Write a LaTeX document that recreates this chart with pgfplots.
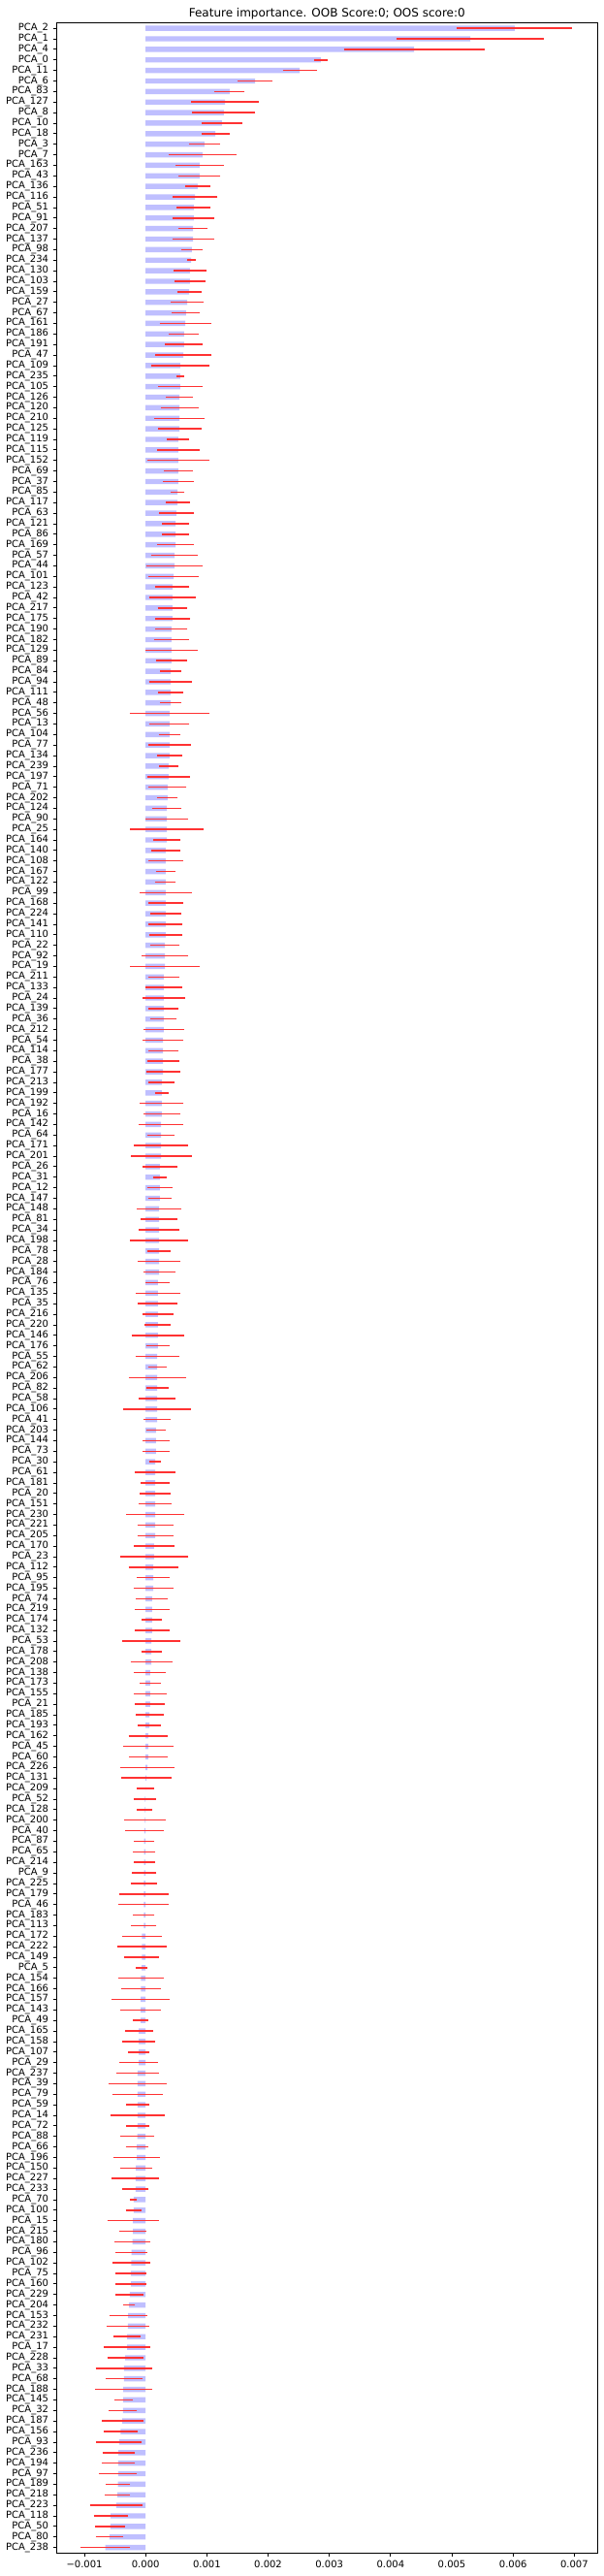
\documentclass[border=0pt]{standalone}
\usepackage{fontspec}
\setmainfont{DejaVu Sans}
\usepackage{pgfplots}
\usepackage{pgfplotstable}
\pgfplotsset{compat=1.18}
\definecolor{barblue}{RGB}{191,191,255}
\definecolor{errred}{RGB}{255,50,50}
\pgfplotstableread{
i v e
0 6.025 0.940
1 5.302 1.201
2 4.384 1.148
3 2.862 0.113
4 2.516 0.277
5 1.786 0.283
6 1.371 0.245
7 1.296 0.553
8 1.277 0.516
9 1.245 0.330
10 1.138 0.230
11 0.962 0.252
12 0.931 0.553
13 0.881 0.393
14 0.881 0.340
15 0.849 0.204
16 0.805 0.371
17 0.786 0.277
18 0.786 0.340
19 0.774 0.239
20 0.774 0.340
21 0.755 0.173
22 0.742 0.072
23 0.723 0.267
24 0.723 0.255
25 0.711 0.198
26 0.679 0.270
27 0.660 0.230
28 0.648 0.421
29 0.629 0.245
30 0.629 0.308
31 0.616 0.465
32 0.566 0.481
33 0.566 0.063
34 0.566 0.358
35 0.553 0.223
36 0.553 0.308
37 0.553 0.412
38 0.553 0.355
39 0.535 0.182
40 0.535 0.346
41 0.535 0.500
42 0.535 0.239
43 0.535 0.252
44 0.522 0.110
45 0.522 0.198
46 0.503 0.292
47 0.491 0.223
48 0.491 0.223
49 0.491 0.299
50 0.472 0.387
51 0.472 0.465
52 0.459 0.412
53 0.440 0.277
54 0.440 0.377
55 0.440 0.245
56 0.440 0.292
57 0.421 0.261
58 0.421 0.286
59 0.421 0.425
60 0.421 0.255
61 0.409 0.167
62 0.409 0.355
63 0.409 0.208
64 0.409 0.167
65 0.390 0.651
66 0.390 0.324
67 0.390 0.173
68 0.390 0.349
69 0.390 0.204
70 0.377 0.157
71 0.377 0.346
72 0.358 0.308
73 0.358 0.167
74 0.346 0.239
75 0.346 0.346
76 0.346 0.604
77 0.346 0.220
78 0.327 0.236
79 0.327 0.286
80 0.327 0.160
81 0.327 0.167
82 0.327 0.428
83 0.327 0.286
84 0.327 0.255
85 0.327 0.277
86 0.327 0.267
87 0.314 0.239
88 0.314 0.381
89 0.314 0.563
90 0.296 0.255
91 0.296 0.299
92 0.296 0.343
93 0.296 0.245
94 0.296 0.214
95 0.296 0.327
96 0.283 0.333
97 0.283 0.245
98 0.283 0.261
99 0.283 0.277
100 0.264 0.214
101 0.264 0.110
102 0.264 0.358
103 0.264 0.296
104 0.252 0.358
105 0.252 0.220
106 0.252 0.443
107 0.252 0.500
108 0.233 0.280
109 0.233 0.110
110 0.233 0.204
111 0.233 0.195
112 0.220 0.358
113 0.220 0.302
114 0.220 0.333
115 0.220 0.475
116 0.220 0.189
117 0.220 0.349
118 0.220 0.261
119 0.201 0.198
120 0.201 0.365
121 0.201 0.324
122 0.201 0.255
123 0.201 0.214
124 0.201 0.428
125 0.201 0.195
126 0.189 0.358
127 0.189 0.151
128 0.189 0.465
129 0.189 0.182
130 0.189 0.296
131 0.189 0.553
132 0.189 0.223
133 0.170 0.157
134 0.170 0.220
135 0.170 0.220
136 0.157 0.094
137 0.157 0.327
138 0.157 0.236
139 0.157 0.255
140 0.157 0.267
141 0.157 0.475
142 0.157 0.292
143 0.157 0.292
144 0.138 0.333
145 0.138 0.560
146 0.126 0.403
147 0.126 0.267
148 0.126 0.324
149 0.107 0.261
150 0.107 0.283
151 0.107 0.167
152 0.107 0.292
153 0.094 0.475
154 0.094 0.167
155 0.094 0.340
156 0.075 0.261
157 0.075 0.176
158 0.075 0.270
159 0.075 0.245
160 0.063 0.230
161 0.063 0.192
162 0.044 0.324
163 0.044 0.406
164 0.044 0.314
165 0.031 0.443
166 0.013 0.409
167 0.000 0.142
168 -0.013 0.182
169 -0.013 0.126
170 -0.013 0.340
171 -0.019 0.314
172 -0.025 0.167
173 -0.025 0.182
174 -0.025 0.173
175 -0.025 0.204
176 -0.030 0.214
177 -0.030 0.403
178 -0.030 0.409
179 -0.030 0.176
180 -0.030 0.208
181 -0.060 0.324
182 -0.060 0.403
183 -0.060 0.286
184 -0.065 0.097
185 -0.075 0.371
186 -0.075 0.324
187 -0.082 0.475
188 -0.082 0.333
189 -0.082 0.126
190 -0.110 0.230
191 -0.110 0.270
192 -0.110 0.176
193 -0.113 0.314
194 -0.130 0.349
195 -0.130 0.475
196 -0.130 0.418
197 -0.130 0.192
198 -0.130 0.443
199 -0.130 0.192
200 -0.135 0.277
201 -0.145 0.182
202 -0.145 0.381
203 -0.160 0.261
204 -0.165 0.390
205 -0.165 0.214
206 -0.195 0.057
207 -0.195 0.132
208 -0.205 0.421
209 -0.208 0.220
210 -0.215 0.292
211 -0.229 0.261
212 -0.235 0.308
213 -0.239 0.252
214 -0.239 0.252
215 -0.260 0.226
216 -0.270 0.100
217 -0.285 0.311
218 -0.289 0.349
219 -0.302 0.223
220 -0.302 0.374
221 -0.333 0.292
222 -0.352 0.465
223 -0.352 0.302
224 -0.365 0.465
225 -0.365 0.151
226 -0.370 0.230
227 -0.380 0.340
228 -0.410 0.277
229 -0.434 0.371
230 -0.443 0.261
231 -0.447 0.270
232 -0.450 0.308
233 -0.453 0.198
234 -0.460 0.204
235 -0.478 0.428
236 -0.569 0.277
237 -0.575 0.245
238 -0.589 0.223
239 -0.657 0.403
}\imptable
\begin{document}
\begin{tikzpicture}
\path[use as bounding box] (0,0) rectangle (448.56pt,1912.32pt);
\begin{axis}[
  at={(42.05pt,17.28pt)}, anchor=south west,
  scale only axis, width=401.6pt, height=1877.98pt,
  xmin=-1.453, xmax=7.377, ymin=-0.5, ymax=239.5, y dir=reverse,
  xtick={-1,0,1,2,3,4,5,6,7},
  xticklabels={−0.001,0.000,0.001,0.002,0.003,0.004,0.005,0.006,0.007},
  ytick={0,...,239},
  yticklabels={PCA\_2,PCA\_1,PCA\_4,PCA\_0,PCA\_11,PCA\_6,PCA\_83,PCA\_127,PCA\_8,PCA\_10,PCA\_18,PCA\_3,PCA\_7,PCA\_163,PCA\_43,PCA\_136,PCA\_116,PCA\_51,PCA\_91,PCA\_207,PCA\_137,PCA\_98,PCA\_234,PCA\_130,PCA\_103,PCA\_159,PCA\_27,PCA\_67,PCA\_161,PCA\_186,PCA\_191,PCA\_47,PCA\_109,PCA\_235,PCA\_105,PCA\_126,PCA\_120,PCA\_210,PCA\_125,PCA\_119,PCA\_115,PCA\_152,PCA\_69,PCA\_37,PCA\_85,PCA\_117,PCA\_63,PCA\_121,PCA\_86,PCA\_169,PCA\_57,PCA\_44,PCA\_101,PCA\_123,PCA\_42,PCA\_217,PCA\_175,PCA\_190,PCA\_182,PCA\_129,PCA\_89,PCA\_84,PCA\_94,PCA\_111,PCA\_48,PCA\_56,PCA\_13,PCA\_104,PCA\_77,PCA\_134,PCA\_239,PCA\_197,PCA\_71,PCA\_202,PCA\_124,PCA\_90,PCA\_25,PCA\_164,PCA\_140,PCA\_108,PCA\_167,PCA\_122,PCA\_99,PCA\_168,PCA\_224,PCA\_141,PCA\_110,PCA\_22,PCA\_92,PCA\_19,PCA\_211,PCA\_133,PCA\_24,PCA\_139,PCA\_36,PCA\_212,PCA\_54,PCA\_114,PCA\_38,PCA\_177,PCA\_213,PCA\_199,PCA\_192,PCA\_16,PCA\_142,PCA\_64,PCA\_171,PCA\_201,PCA\_26,PCA\_31,PCA\_12,PCA\_147,PCA\_148,PCA\_81,PCA\_34,PCA\_198,PCA\_78,PCA\_28,PCA\_184,PCA\_76,PCA\_135,PCA\_35,PCA\_216,PCA\_220,PCA\_146,PCA\_176,PCA\_55,PCA\_62,PCA\_206,PCA\_82,PCA\_58,PCA\_106,PCA\_41,PCA\_203,PCA\_144,PCA\_73,PCA\_30,PCA\_61,PCA\_181,PCA\_20,PCA\_151,PCA\_230,PCA\_221,PCA\_205,PCA\_170,PCA\_23,PCA\_112,PCA\_95,PCA\_195,PCA\_74,PCA\_219,PCA\_174,PCA\_132,PCA\_53,PCA\_178,PCA\_208,PCA\_138,PCA\_173,PCA\_155,PCA\_21,PCA\_185,PCA\_193,PCA\_162,PCA\_45,PCA\_60,PCA\_226,PCA\_131,PCA\_209,PCA\_52,PCA\_128,PCA\_200,PCA\_40,PCA\_87,PCA\_65,PCA\_214,PCA\_9,PCA\_225,PCA\_179,PCA\_46,PCA\_183,PCA\_113,PCA\_172,PCA\_222,PCA\_149,PCA\_5,PCA\_154,PCA\_166,PCA\_157,PCA\_143,PCA\_49,PCA\_165,PCA\_158,PCA\_107,PCA\_29,PCA\_237,PCA\_39,PCA\_79,PCA\_59,PCA\_14,PCA\_72,PCA\_88,PCA\_66,PCA\_196,PCA\_150,PCA\_227,PCA\_233,PCA\_70,PCA\_100,PCA\_15,PCA\_215,PCA\_180,PCA\_96,PCA\_102,PCA\_75,PCA\_160,PCA\_229,PCA\_204,PCA\_153,PCA\_232,PCA\_231,PCA\_17,PCA\_228,PCA\_33,PCA\_68,PCA\_188,PCA\_145,PCA\_32,PCA\_187,PCA\_156,PCA\_93,PCA\_236,PCA\_194,PCA\_97,PCA\_189,PCA\_218,PCA\_223,PCA\_118,PCA\_50,PCA\_80,PCA\_238},
  tick align=outside, xtick pos=bottom, ytick pos=left,
  major tick length=2.52pt,
  tick style={black, line width=0.58pt},
  axis line style={line width=0.58pt},
  ticklabel style={font=\fontsize{7.2}{8}\selectfont},
  clip=false,
]
\addplot[xbar, bar width=0.5, fill=barblue, draw=none,
  error bars/.cd, x dir=both, x explicit, error mark=none,
  error bar style={color=errred, line width=1.08pt}]
  table[x=v, y=i, x error=e] {\imptable};
\path (rel axis cs:0.5,1) node[anchor=base, yshift=4.6pt, inner sep=0pt, font=\fontsize{8.64}{10}\selectfont] {Feature importance. OOB Score:0; OOS score:0};
\end{axis}
\end{tikzpicture}
\end{document}
